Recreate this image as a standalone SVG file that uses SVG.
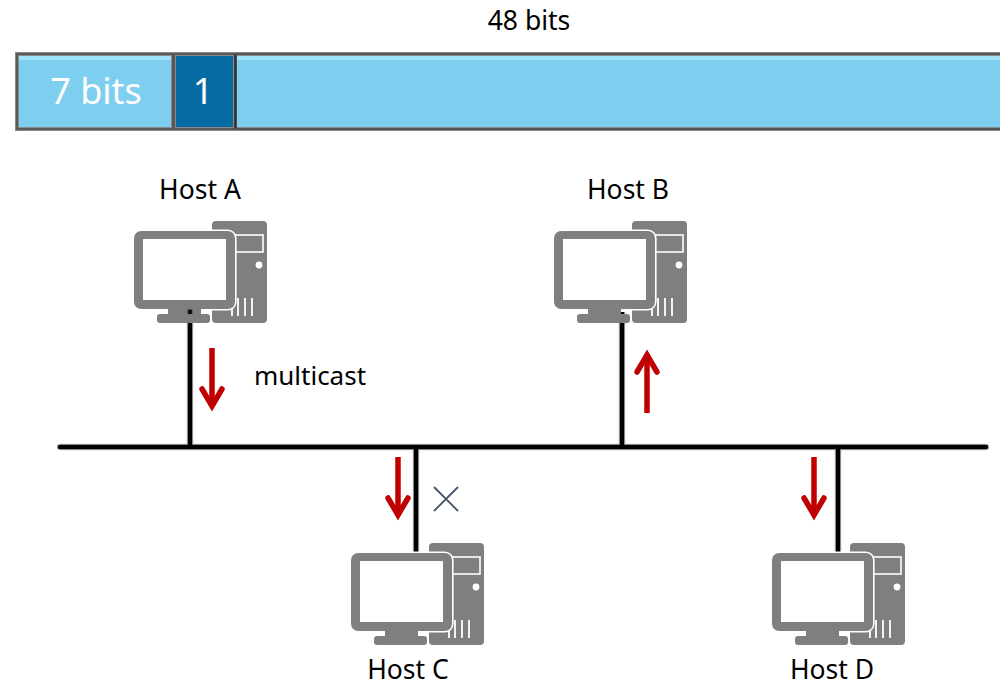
<svg xmlns="http://www.w3.org/2000/svg" width="1000" height="685" viewBox="0 0 1000 685">
<style>
.t{font-family:"Noto Sans","Open Sans","Liberation Sans",sans-serif;font-size:26.5px;fill:#000;text-anchor:middle}
.w{font-family:"Noto Sans","Open Sans","Liberation Sans",sans-serif;fill:#fff;text-anchor:middle;font-size:36px}
.ln{stroke:#000;stroke-width:4.5;fill:none}
.halo{stroke:#bbb;stroke-width:6.5;fill:none}
.ar{stroke:#C00000;stroke-width:5.5;fill:none;stroke-linejoin:miter}
.seg{stroke:#8a8a8a;stroke-width:4}
.seg2{stroke:#555;stroke-width:1.8;fill:none}
</style>
<defs>
<g id="host">
<rect x="212" y="221" width="55" height="102" rx="4" fill="#7f7f7f"/>
<rect x="229" y="235" width="34" height="17" fill="none" stroke="#fff" stroke-width="1.6"/>
<circle cx="259" cy="265" r="3.4" fill="#fff"/>
<path d="M232 298V316M238 298V316M245 298V316M252 298V316" stroke="#fff" stroke-width="1.8" fill="none"/>
<rect x="133.2" y="230.2" width="102.6" height="79.6" rx="8" fill="#7f7f7f" stroke="#fff" stroke-width="1.6"/>
<rect x="143" y="239" width="83" height="61" fill="#fff"/>
<rect x="168" y="309" width="33" height="5" fill="#7f7f7f"/>
<rect x="157" y="314" width="53" height="9" rx="3" fill="#7f7f7f"/>
</g>
<g id="down">
<path d="M0 0V56"/>
<path d="M-10 41L0 58L10 41" stroke-linecap="round"/>
</g>
</defs>

<text class="t" x="529" y="30">48 bits</text>

<g id="bar">
<rect x="235" y="54" width="775" height="75" fill="#7ECEF0" class="seg"/>
<rect x="17" y="54" width="156" height="75" fill="#7ECEF0" class="seg"/>
<rect x="174" y="54" width="61" height="75" fill="#076BA3" class="seg"/>
<rect x="19" y="56" width="152" height="4" fill="#9FE3F8"/>
<rect x="237" y="56" width="770" height="4" fill="#9FE3F8"/>
<rect x="17" y="54" width="156" height="75" class="seg2"/>
<rect x="174" y="54" width="61" height="75" class="seg2"/>
<path d="M235.500 54V129" stroke="#333" stroke-width="2.500"/>
<path d="M235 54H1000M235 129H1000" class="seg2"/>
<text class="w" x="96" y="104">7 bits</text>
<text class="w" x="203" y="104">1</text>
</g>

<g id="connectors">
<path class="halo" d="M190 312V447M622 312V447M416 447V553M838 447V553"/>
<path class="halo" d="M60 447H986" stroke-linecap="round"/>
<path class="ln" d="M60 447H986" stroke-linecap="round"/>
<path class="ln" d="M190 312V447M622 312V447M416 447V553M838 447V553"/>
</g>

<g id="arrows" class="ar">
<use href="#down" transform="translate(212 348)"/>
<use href="#down" transform="translate(647 413) scale(1 -1)"/>
<use href="#down" transform="translate(398 457)"/>
<use href="#down" transform="translate(814 457)"/>
</g>

<g id="host-a"><use href="#host"/><path d="M190 309.500V314" stroke="#111" stroke-width="4.500"/><text class="t" x="200" y="199">Host A</text></g>
<g id="host-b"><use href="#host" x="420"/><text class="t" x="628" y="199">Host B</text></g>
<g id="host-c"><use href="#host" x="217" y="322"/><text class="t" x="408" y="679">Host C</text></g>
<g id="host-d"><use href="#host" x="638" y="322"/><text class="t" x="832" y="679">Host D</text></g>

<text class="t" style="font-size:26px" x="310" y="385">multicast</text>
<path id="cross" d="M434 487L458 511M458 487L434 511" stroke="#44546A" stroke-width="1.8" fill="none"/>
</svg>
